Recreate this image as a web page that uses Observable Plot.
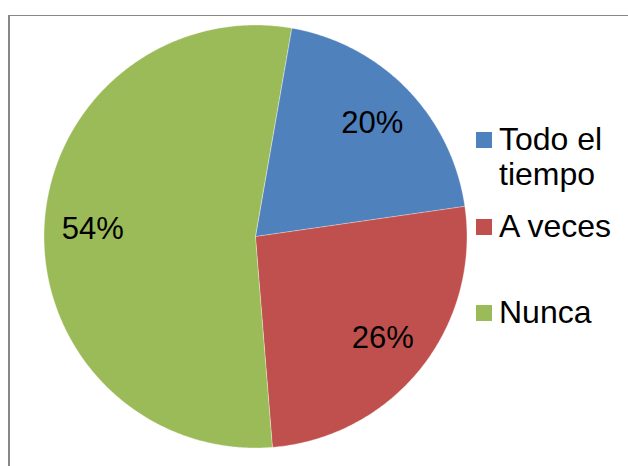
<!DOCTYPE html>
<html>
<head>
<meta charset="utf-8">
<script src="https://cdn.jsdelivr.net/npm/d3@7"></script>
<script src="https://cdn.jsdelivr.net/npm/@observablehq/plot@0.6"></script>
<style>
  html, body { margin: 0; padding: 0; background: #fff; }
  #wrap { position: relative; width: 628px; height: 466px; overflow: hidden; font-family: "Liberation Sans", Arial, sans-serif; }
  #frame { position: absolute; left: 8px; top: 15px; width: 700px; height: 600px; border-left: 2px solid #878787; border-top: 1px solid #878787; }
  #chart { position: absolute; left: 0; top: 0; }
  .leg { position: absolute; left: 476px; width: 150px; font-size: 32px; line-height: 35px; color: #000; }
  .leg .sw { position: absolute; left: 0; top: 10.5px; width: 16px; height: 16px; }
  .leg .tx { position: absolute; left: 23px; top: 0; width: 125px; white-space: normal; }
</style>
</head>
<body>
<div id="wrap">
  <div id="frame"></div>
  <div id="chart"></div>
</div>
<script>
const categories = ["Todo el tiempo", "A veces", "Nunca"];
const values = [20, 26, 54];
const labels = ["20%", "26%", "54%"];
const colors = ["#4F81BD", "#C0504D", "#9BBB59"];
const startAngleDeg = 9.8;

const pie = d3.pie().sort(null).value(d => d.value)
  .startAngle(startAngleDeg * Math.PI / 180)
  .endAngle(startAngleDeg * Math.PI / 180 + 2 * Math.PI);
const arcs = pie(categories.map((c, i) => ({cat: c, value: values[i], label: labels[i]})));

const points = [];
for (const a of arcs) {
  points.push({cat: a.data.cat, x: 0, y: 0});
  const n = Math.max(2, Math.ceil((a.endAngle - a.startAngle) / (Math.PI / 360)));
  for (let k = 0; k <= n; k++) {
    const t = a.startAngle + (a.endAngle - a.startAngle) * k / n;
    points.push({cat: a.data.cat, x: Math.sin(t), y: Math.cos(t)});
  }
}
const labelPts = arcs.map(a => {
  const m = (a.startAngle + a.endAngle) / 2;
  return {label: a.data.label, x: 0.77 * Math.sin(m), y: 0.77 * Math.cos(m)};
});

const chart = Plot.plot({
  width: 628,
  height: 466,
  marginLeft: 43.5,
  marginRight: 161.5,
  marginTop: 24.5,
  marginBottom: 18.5,
  style: {background: "transparent", fontFamily: "'Liberation Sans', Arial, sans-serif"},
  x: {domain: [-1, 1], axis: null},
  y: {domain: [-1, 1], axis: null},
  color: {domain: categories, range: colors},
  marks: [
    Plot.line(points, {x: "x", y: "y", z: "cat", fill: "cat", stroke: "#ffffff", strokeWidth: 0.6, strokeOpacity: 0.6, curve: "linear-closed"}),
    Plot.text(labelPts, {x: "x", y: "y", text: "label", fontSize: 31, fill: "#000", textAnchor: "middle", lineAnchor: "middle"})
  ]
});
document.getElementById("chart").appendChild(chart);

const legendTops = [121.5, 208.5, 294.5];
const wrap = document.getElementById("wrap");
categories.forEach((c, i) => {
  const item = document.createElement("div");
  item.className = "leg";
  item.style.top = legendTops[i] + "px";
  const sw = document.createElement("div");
  sw.className = "sw";
  sw.style.background = colors[i];
  const tx = document.createElement("div");
  tx.className = "tx";
  tx.textContent = c;
  item.appendChild(sw);
  item.appendChild(tx);
  wrap.appendChild(item);
});
</script>
</body>
</html>
